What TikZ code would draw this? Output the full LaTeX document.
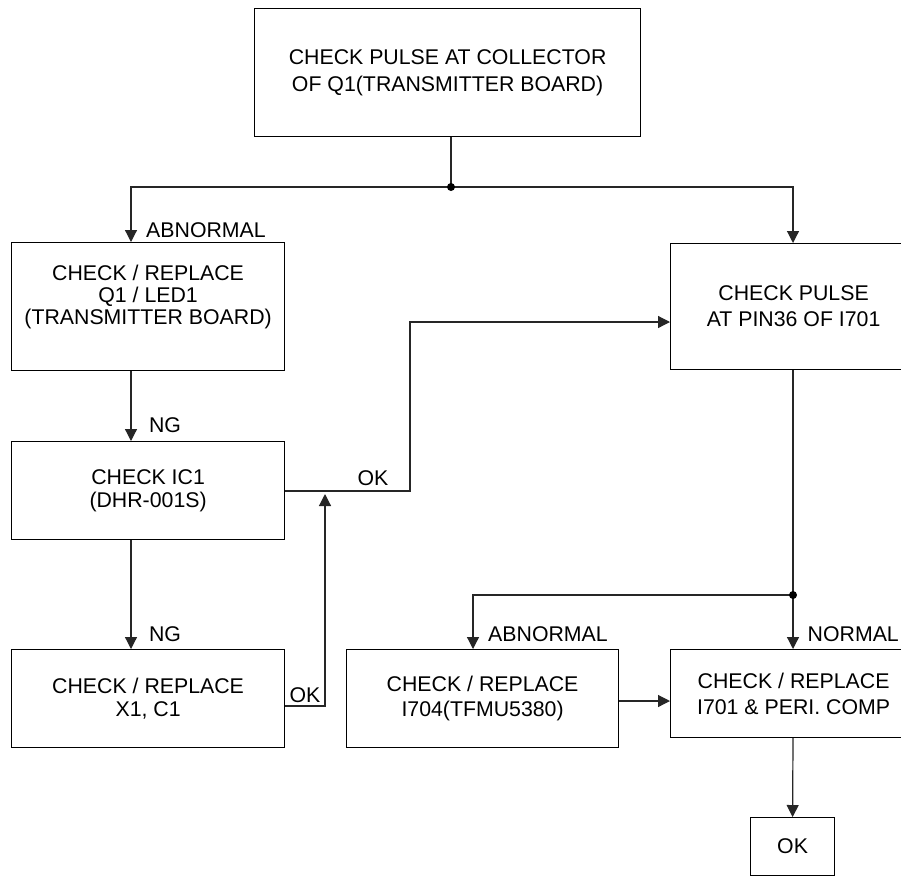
\documentclass[tikz,border=0pt]{standalone}
\usepackage{fontspec}
\setmainfont{Liberation Sans}
\usetikzlibrary{arrows.meta}
\tikzset{
  box/.style={draw=black, line width=1.2pt, inner sep=0pt, align=center, anchor=north west,
    font=\fontsize{21.3}{24}\selectfont},
  lbl/.style={inner sep=0pt, anchor=center, font=\fontsize{21.3}{24}\selectfont},
  conn/.style={draw=black!85, line width=1.2pt},
  arr/.style={conn, -{Triangle[length=12pt,width=12pt]}},
}
\begin{document}
\begin{tikzpicture}[x=1pt,y=-1pt]
\clip (0,0) rectangle (901,876);
\fill[white] (0,0) rectangle (901,876);
% boxes
\node[box, minimum width=386pt, minimum height=128pt, font=\fontsize{21.3}{26.7}\selectfont] (top) at (254,8)
  {CHECK PULSE AT COLLECTOR\\OF Q1(TRANSMITTER BOARD)};
\node[box, minimum width=273pt, minimum height=128pt, font=\fontsize{21.3}{22}\selectfont] (b2) at (11,242)
  {CHECK / REPLACE\\Q1 / LED1\\(TRANSMITTER BOARD)\\[2pt]};
\node[box, minimum width=246pt, minimum height=126pt, font=\fontsize{21.3}{26}\selectfont] (b3) at (670,243)
  {CHECK PULSE\\AT PIN36 OF I701};
\node[box, minimum width=273pt, minimum height=98pt, font=\fontsize{21.3}{23}\selectfont] (b4) at (11,441)
  {CHECK IC1\\(DHR-001S)};
\node[box, minimum width=273pt, minimum height=98pt, font=\fontsize{21.3}{23}\selectfont] (b5) at (11,649)
  {CHECK / REPLACE\\X1, C1};
\node[box, minimum width=272pt, minimum height=98pt, font=\fontsize{21.3}{25}\selectfont] (b6) at (346,649)
  {CHECK / REPLACE\\I704(TFMU5380)};
\node[box, minimum width=246pt, minimum height=88pt, font=\fontsize{21.3}{26}\selectfont] (b7) at (670,649)
  {CHECK / REPLACE\\I701 \& PERI. COMP};
\node[box, minimum width=84pt, minimum height=58pt] (ok) at (750,817) {OK};
% junctions and columns
\coordinate (j1) at (451,187);
\coordinate (j2) at (793,595);
\coordinate (colL) at (131,0);
\coordinate (colR) at (793,0);
\coordinate (colA) at (473,0);
\coordinate (colB) at (410,0);
\coordinate (colC) at (325,0);
\coordinate (okTip) at (325,494);
% connectors
\draw[conn] (j1 |- top.south) -- (j1);
\draw[arr] (j1) -- (colL |- j1) -- (colL |- b2.north);
\draw[arr] (j1) -- (colR |- j1) -- (colR |- b3.north);
\draw[arr] (colL |- b2.south) -- (colL |- b4.north);
\draw[arr] (colL |- b4.south) -- (colL |- b5.north);
\draw[arr] (b4.east |- 0,491) -- (colB |- 0,491) -- (colB |- 0,322) -- (b3.west |- 0,322);
\draw[arr] (b5.east |- 0,706) -- (colC |- 0,706) -- (okTip);
\draw[conn] (colR |- b3.south) -- (j2);
\draw[arr] (j2) -- (colA |- j2) -- (colA |- b6.north);
\draw[arr] (j2) -- (colR |- b7.north);
\draw[arr] (b6.east |- 0,701) -- (b7.west |- 0,701);
\draw[arr] (colR |- b7.south) -- (ok.north);
\fill (j1) circle (4pt);
\fill (j2) circle (4pt);
% labels
\node[lbl] (l1) at (206,230) {ABNORMAL};
\node[lbl] (l2) at (165,425) {NG};
\node[lbl] (l3) at (165,634) {NG};
\node[lbl] (l4) at (373,478) {OK};
\node[lbl] (l5) at (305,695) {OK};
\node[lbl] (l6) at (548,634) {ABNORMAL};
\node[lbl, anchor=east] (l7) at (899,634) {NORMAL};
\end{tikzpicture}
\end{document}
